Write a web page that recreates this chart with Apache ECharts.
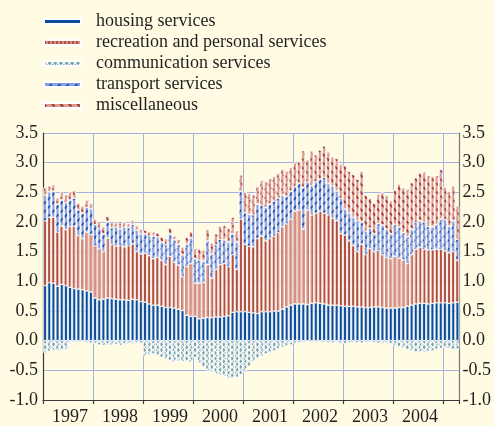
<!DOCTYPE html>
<html>
<head>
<meta charset="utf-8">
<script src="https://cdn.jsdelivr.net/npm/echarts@6/dist/echarts.min.js"></script>
<style>
  html, body { margin: 0; padding: 0; background: #fffce3; }
  #chart { width: 494px; height: 426px; }
</style>
</head>
<body>
<div id="chart"></div>
<script>
// monthly categories, Jan 1997 - Apr 2005
const years = ['1997', '1998', '1999', '2000', '2001', '2002', '2003', '2004', '2005'];
const months = [];
years.forEach((y, k) => {
  const n = k === years.length - 1 ? 4 : 12;
  for (let m = 1; m <= n; m++) months.push(y + '-' + (m < 10 ? '0' + m : m));
});

// contributions, percentage points
const housing = [
  0.93, 0.98, 0.97, 0.92, 0.95, 0.93, 0.90, 0.88, 0.87, 0.86, 0.84, 0.82,
  0.72, 0.69, 0.70, 0.72, 0.71, 0.70, 0.69, 0.69, 0.68, 0.70, 0.69, 0.66,
  0.65, 0.62, 0.60, 0.60, 0.58, 0.56, 0.56, 0.55, 0.53, 0.51, 0.43, 0.41,
  0.41, 0.37, 0.38, 0.39, 0.39, 0.40, 0.40, 0.41, 0.42, 0.48, 0.49, 0.49,
  0.49, 0.48, 0.47, 0.46, 0.49, 0.49, 0.49, 0.50, 0.50, 0.53, 0.57, 0.60,
  0.62, 0.62, 0.62, 0.61, 0.63, 0.64, 0.63, 0.62, 0.60, 0.60, 0.60, 0.59,
  0.58, 0.58, 0.58, 0.57, 0.57, 0.56, 0.56, 0.57, 0.57, 0.56, 0.55, 0.55,
  0.55, 0.56, 0.56, 0.58, 0.60, 0.62, 0.63, 0.63, 0.62, 0.63, 0.64, 0.64,
  0.64, 0.63, 0.64, 0.65
];
const recreation = [
  1.09, 1.10, 1.11, 0.91, 0.98, 0.94, 1.02, 1.05, 0.90, 0.86, 0.99, 0.97,
  0.88, 0.86, 0.80, 1.01, 0.91, 0.89, 0.91, 0.89, 0.92, 0.93, 0.81, 0.80,
  0.82, 0.81, 0.78, 0.80, 0.77, 0.72, 0.86, 0.77, 0.74, 0.57, 0.82, 0.89,
  0.56, 0.60, 0.60, 0.89, 0.66, 0.80, 0.88, 0.89, 0.83, 0.97, 0.71, 1.56,
  1.13, 1.11, 1.11, 1.26, 1.27, 1.19, 1.23, 1.26, 1.32, 1.39, 1.40, 1.45,
  1.56, 1.58, 1.26, 1.59, 1.49, 1.51, 1.55, 1.53, 1.52, 1.46, 1.42, 1.21,
  1.20, 1.10, 1.02, 0.93, 1.05, 0.89, 0.99, 0.93, 0.95, 0.89, 0.85, 0.83,
  0.87, 0.83, 0.80, 0.72, 0.85, 0.92, 0.94, 0.91, 0.91, 0.90, 0.90, 0.90,
  0.87, 0.85, 0.86, 0.70
];
const communication = [
  -0.20, -0.18, -0.16, -0.16, -0.16, -0.15, -0.03, -0.02, -0.02, -0.02, -0.03, -0.04,
  -0.05, -0.07, -0.08, -0.08, -0.07, -0.06, -0.08, -0.07, -0.05, -0.05, -0.03, -0.04,
  -0.25, -0.24, -0.22, -0.25, -0.28, -0.31, -0.33, -0.36, -0.34, -0.35, -0.35, -0.36,
  -0.28, -0.38, -0.45, -0.50, -0.53, -0.56, -0.58, -0.60, -0.63, -0.63, -0.62, -0.58,
  -0.53, -0.43, -0.35, -0.30, -0.26, -0.22, -0.20, -0.17, -0.14, -0.11, -0.09, -0.07,
  -0.04, -0.03, -0.03, -0.02, -0.02, -0.02, -0.02, -0.03, -0.03, -0.04, -0.04, -0.05,
  -0.05, -0.04, -0.04, -0.04, -0.04, -0.03, -0.03, -0.03, -0.04, -0.05, -0.05, -0.06,
  -0.08, -0.10, -0.12, -0.15, -0.17, -0.19, -0.19, -0.19, -0.18, -0.17, -0.15, -0.13,
  -0.12, -0.14, -0.15, -0.15
];
const transport = [
  0.43, 0.43, 0.44, 0.47, 0.44, 0.46, 0.45, 0.47, 0.43, 0.43, 0.42, 0.43,
  0.36, 0.35, 0.30, 0.27, 0.28, 0.33, 0.28, 0.34, 0.30, 0.33, 0.36, 0.34,
  0.33, 0.34, 0.38, 0.35, 0.31, 0.35, 0.38, 0.38, 0.35, 0.37, 0.38, 0.43,
  0.41, 0.39, 0.36, 0.40, 0.41, 0.42, 0.43, 0.40, 0.41, 0.35, 0.46, 0.47,
  0.54, 0.54, 0.54, 0.58, 0.52, 0.57, 0.58, 0.59, 0.58, 0.53, 0.46, 0.47,
  0.42, 0.45, 0.70, 0.48, 0.50, 0.53, 0.54, 0.60, 0.53, 0.54, 0.50, 0.60,
  0.44, 0.47, 0.48, 0.52, 0.38, 0.40, 0.35, 0.30, 0.45, 0.50, 0.48, 0.42,
  0.54, 0.52, 0.46, 0.45, 0.43, 0.45, 0.45, 0.46, 0.40, 0.39, 0.42, 0.51,
  0.53, 0.45, 0.52, 0.36
];
const miscellaneous = [
  0.13, 0.10, 0.11, 0.11, 0.14, 0.13, 0.14, 0.13, 0.12, 0.12, 0.12, 0.09,
  0.09, 0.11, 0.12, 0.10, 0.08, 0.07, 0.10, 0.08, 0.07, 0.07, 0.08, 0.08,
  0.06, 0.07, 0.07, 0.07, 0.09, 0.09, 0.10, 0.06, 0.08, 0.13, 0.11, 0.11,
  0.17, 0.19, 0.19, 0.20, 0.19, 0.18, 0.22, 0.24, 0.24, 0.28, 0.19, 0.27,
  0.34, 0.35, 0.34, 0.30, 0.42, 0.43, 0.43, 0.42, 0.42, 0.44, 0.43, 0.40,
  0.40, 0.37, 0.62, 0.37, 0.57, 0.45, 0.49, 0.53, 0.53, 0.50, 0.55, 0.57,
  0.73, 0.70, 0.72, 0.70, 0.86, 0.60, 0.50, 0.52, 0.50, 0.55, 0.57, 0.56,
  0.58, 0.73, 0.76, 0.80, 0.78, 0.76, 0.81, 0.84, 0.85, 0.85, 0.82, 0.84,
  0.55, 0.59, 0.59, 0.56
];

const font = '"Liberation Serif", "DejaVu Serif", serif';
const textColor = '#231f20';
const gridColor = '#a3b2e2';
const axisColor = '#3a3a3a';

function bar (name, data, color, decal) {
  return {
    name: name,
    type: 'bar',
    stack: 'total',
    data: data,
    barCategoryGap: '16%',
    itemStyle: {
      color: color,
      borderColor: '#ffffff',
      borderWidth: 0.5,
      decal: decal
    },
    emphasis: { disabled: true }
  };
}

const chart = echarts.init(document.getElementById('chart'));
const option = {
  backgroundColor: '#fffce3',
  animation: false,
  aria: { enabled: true, decal: { show: true } },
  legend: {
    orient: 'vertical',
    left: 43,
    top: 11,
    padding: 0,
    icon: 'rect',
    itemWidth: 37,
    itemHeight: 5,
    itemGap: 0,
    data: ['housing services', 'recreation and personal services', 'communication services',
      'transport services', 'miscellaneous'],
    textStyle: {
      fontFamily: font,
      fontSize: 18,
      color: textColor,
      lineHeight: 21,
      padding: [0, 0, 0, 10]
    }
  },
  grid: { left: 43, right: 34, top: 133, bottom: 25 },
  xAxis: [
    {
      type: 'category',
      data: months,
      boundaryGap: true,
      axisLine: { onZero: false, lineStyle: { color: axisColor, width: 1.2 } },
      axisTick: { show: false },
      axisLabel: {
        interval: 0,
        // year written under July
        formatter: (v) => (v.slice(5) === '07' ? v.slice(0, 4) : ''),
        fontFamily: font,
        fontSize: 18,
        color: textColor,
        margin: 8
      },
      splitLine: { show: false }
    },
    {
      // month index axis, only for the year ticks and vertical grid
      type: 'value',
      position: 'bottom',
      min: 0,
      max: months.length,
      interval: 12,
      axisLine: { show: false, onZero: false },
      axisTick: { show: true, length: 4, lineStyle: { color: axisColor, width: 1.2 } },
      axisLabel: { show: false },
      splitLine: { show: true, lineStyle: { color: gridColor, width: 1 } }
    }
  ],
  yAxis: [
    {
      type: 'value',
      position: 'left',
      min: -1,
      max: 3.5,
      interval: 0.5,
      axisLine: { show: true, lineStyle: { color: axisColor, width: 1.2 } },
      axisTick: { show: false },
      axisLabel: { formatter: (v) => v.toFixed(1), fontFamily: font, fontSize: 18, color: textColor, margin: 5 },
      splitLine: { lineStyle: { color: gridColor, width: 1 } }
    },
    {
      type: 'value',
      position: 'right',
      min: -1,
      max: 3.5,
      interval: 0.5,
      axisLine: { show: true, lineStyle: { color: '#777', width: 1.2 } },
      axisTick: { show: false },
      axisLabel: { formatter: (v) => v.toFixed(1), fontFamily: font, fontSize: 18, color: textColor, margin: 3 },
      splitLine: { show: false }
    }
  ],
  series: [
    bar('housing services', housing, '#0b4d9d',
      { symbol: 'rect', symbolSize: 1, color: 'rgba(0,0,0,0)', dashArrayX: [1, 0], dashArrayY: [1, 0] }),
    bar('recreation and personal services', recreation, '#d98f7f',
      { symbol: 'rect', symbolSize: 1, color: '#b24f40', dashArrayX: [2, 2], dashArrayY: [4, 0] }),
    bar('transport services', transport, '#8ba0dc',
      { symbol: 'rect', symbolSize: 1, color: '#1f50b2', dashArrayX: [4, 2], dashArrayY: [1.2, 3.5], rotation: -Math.PI / 4 }),
    bar('miscellaneous', miscellaneous, '#dc9d8e',
      { symbol: 'rect', symbolSize: 1, color: '#a8342e', dashArrayX: [4, 2], dashArrayY: [1.2, 3.5], rotation: Math.PI / 4 }),
    bar('communication services', communication, '#ffffff',
      { symbol: 'rect', symbolSize: 1, color: '#77a1ab', backgroundColor: '#ffffff', dashArrayX: [3, 1], dashArrayY: [3, 1] })
  ]
};
chart.setOption(option);
</script>
</body>
</html>
